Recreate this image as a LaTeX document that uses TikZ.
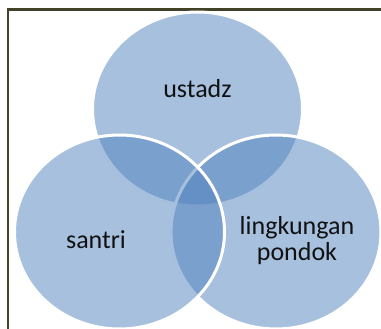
\documentclass[tikz,border=0pt]{standalone}
\usepackage{fontspec}
\setmainfont{Carlito}
\usetikzlibrary{shapes.geometric}
\definecolor{vennblue}{HTML}{4F81BD}
\definecolor{framecol}{HTML}{434128}
\definecolor{txtcol}{HTML}{111111}
\tikzset{
  venn/.style={ellipse, draw=white, line width=3pt, fill=vennblue, fill opacity=0.5,
    minimum width=210pt, minimum height=194pt, inner sep=0pt},
  venntext/.style={text=txtcol, font=\fontsize{26}{26}\selectfont, inner sep=0pt, anchor=base}
}
\begin{document}
\begin{tikzpicture}[x=1pt,y=-1pt]
\useasboundingbox (0,0) rectangle (381,329);
\clip (0,0) rectangle (381,329);
\draw[framecol, line width=2.4pt] (8,330) -- (8,9.5) -- (382,9.5);
\node[venn] (top) at (197.5,109) {};
\node[venn] (right) at (276,232) {};
\node[venn] (left) at (119.5,232) {};
\node[venntext] (ustadz) at (197.5,98) {ustadz};
\node[venntext] (santri) at (96,248) {santri};
\node[venntext] (lingk) at (297,235) {lingkungan};
\node[venntext] (pondok) at (297,260) {pondok};
\end{tikzpicture}
\end{document}
